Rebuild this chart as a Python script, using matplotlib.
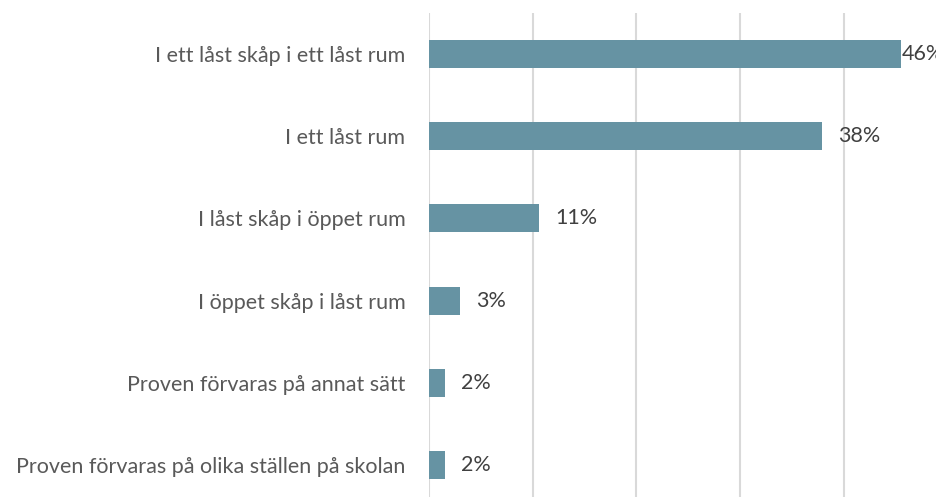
import matplotlib.pyplot as plt

categories = [
    "I ett låst skåp i ett låst rum",
    "I ett låst rum",
    "I låst skåp i öppet rum",
    "I öppet skåp i låst rum",
    "Proven förvaras på annat sätt",
    "Proven förvaras på olika ställen på skolan",
]
values = [45.5, 37.9, 10.6, 3.0, 1.5, 1.5]
labels = ["46%", "38%", "11%", "3%", "2%", "2%"]

plt.rcParams['font.family'] = ['Lato', 'DejaVu Sans']

fig = plt.figure(figsize=(9.37, 4.97), dpi=100)
ax = fig.add_axes([429 / 937, -9 / 497, 518.5 / 937, 493 / 497])

y = list(range(len(categories)))
ax.barh(y, values, height=0.34, color='#6693A3', zorder=3)
ax.set_ylim(len(categories) - 0.5, -0.5)
ax.set_xlim(0, 50)

ax.set_xticks([0, 10, 20, 30, 40])
ax.xaxis.grid(True, color='#D9D9D9', linewidth=1.5, zorder=0)
ax.tick_params(axis='x', length=0, labelbottom=False)
ax.tick_params(axis='y', length=0, pad=17)
ax.set_yticks(y)
ax.set_yticklabels(categories, fontsize=15.5, color='#595959')
for s in ax.spines.values():
    s.set_visible(False)

for yi, v, lab in zip(y, values, labels):
    # the longest bar's label is squeezed against the bar end
    off = 1 if v > 44 else 11.5
    ax.annotate(lab, (v, yi), xytext=(off, 0), textcoords='offset points',
                va='center', ha='left', fontsize=15.5, color='#404040')

fig.savefig('out.png', dpi=100)
